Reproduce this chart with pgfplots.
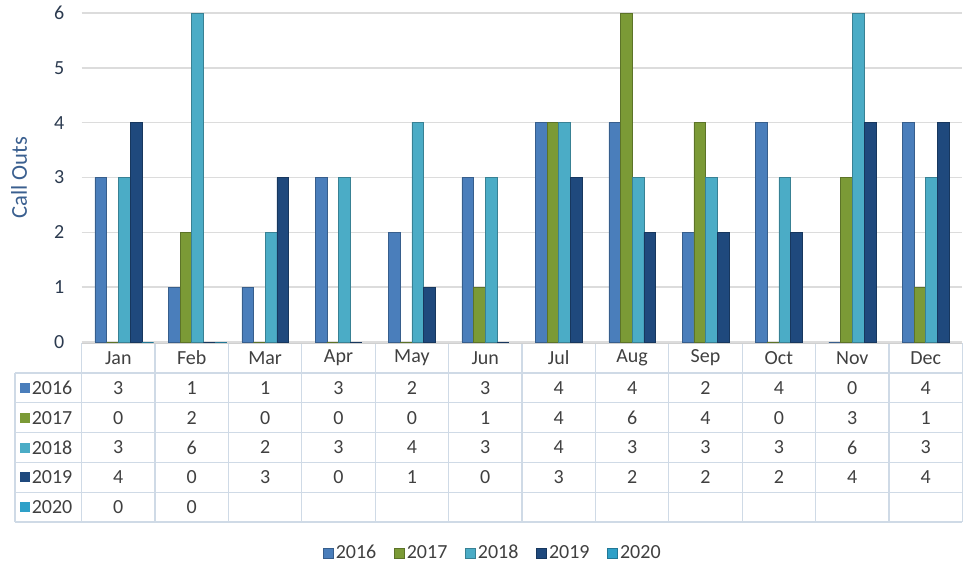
\documentclass[border=0pt]{standalone}
\usepackage{pgfplots}
\pgfplotsset{compat=1.18}
\usepackage{pgfplotstable}
\usepackage{fontspec}
\setmainfont{Carlito}
\definecolor{c16}{HTML}{4A7EBB}
\definecolor{c17}{HTML}{7B9A36}
\definecolor{c18}{HTML}{4BACC6}
\definecolor{c19}{HTML}{1F497D}
\definecolor{c20}{HTML}{2EA0C8}
\definecolor{gridc}{HTML}{DCDCDC}
\definecolor{tabc}{HTML}{CFDAE6}
\definecolor{txt}{HTML}{404040}
\definecolor{ticktxt}{HTML}{2B3A4F}
\definecolor{labtxt}{HTML}{3A5F8F}

\pgfplotstableread{
m name y16 y17 y18 y19
1 Jan 3 0 3 4
2 Feb 1 2 6 0
3 Mar 1 0 2 3
4 Apr 3 0 3 0
5 May 2 0 4 1
6 Jun 3 1 3 0
7 Jul 4 4 4 3
8 Aug 4 6 3 2
9 Sep 2 4 3 2
10 Oct 4 0 3 2
11 Nov 0 3 6 4
12 Dec 4 1 3 4
}\data
\pgfplotstableread{
m y20
1 0
2 0
}\dataB

\newcommand\fs{\fontsize{15}{18}\selectfont}

\begin{document}
\begin{tikzpicture}
\useasboundingbox (0,0) rectangle (723pt,-426.75pt);

% table borders (px coordinates)
\begin{scope}[x=0.75pt,y=-0.75pt]
  \draw[tabc, line width=0.8pt] (81.6,343) -- (962.4,343);
  \foreach \yy in {373,402.8,432.7,462.5,492.3,522}
    \draw[tabc, line width=0.8pt] (15,\yy) -- (962.4,\yy);
  \draw[tabc, line width=0.8pt] (15,373) -- (15,522);
  \foreach \k in {0,...,12}
    \draw[tabc, line width=0.8pt] (81.6+73.4*\k,343) -- (81.6+73.4*\k,522);
  % row labels
  \foreach \yy/\c/\t in {388/c16/2016,417.9/c17/2017,447.6/c18/2018,477.4/c19/2019,507.2/c20/2020}{
    \fill[\c] (20,\yy-5) rectangle (30,\yy+5);
    \node[anchor=west, inner sep=0pt, text=txt, font=\fs] at (31.5,\yy) {\t};
  }
  % y label
  \node[rotate=90, text=labtxt, font=\fontsize{17}{20}\selectfont] at (19,178) {Call Outs};
  % floor
  \fill[gridc!80!black!60] (81.6,340.5) rectangle (962.4,343.5);
\end{scope}

% main chart
\begin{axis}[
  at={(61.2pt,-256.5pt)}, anchor=south west,
  scale only axis, width=660.6pt, height=246.75pt,
  xmin=0.5, xmax=12.5, ymin=0, ymax=6,
  axis line style={draw=none}, major tick length=0pt,
  xtick=\empty, ytick={0,...,6},
  ymajorgrids, grid style={gridc, line width=1.1pt},
  /pgf/number format/assume math mode=true,
  yticklabel style={font=\fs, text=ticktxt, xshift=-9.5pt},
  legend columns=5,
  legend style={at={(0.467,-0.641)}, anchor=center, draw=none, font=\fs, text=txt,
    /tikz/every even column/.append style={column sep=11pt}},
  legend image code/.code={\fill[#1] (0pt,-3.75pt) rectangle (7.5pt,3.75pt);},
  clip=false,
]
\addplot[ybar, bar width=8.8pt, bar shift=-13.1pt, fill=c16, draw=c16!75!black, line width=0.4pt] table[x=m,y=y16]{\data};
\addplot[ybar, bar width=8.8pt, bar shift=-4.35pt, fill=c17, draw=c17!75!black, line width=0.4pt] table[x=m,y=y17]{\data};
\addplot[ybar, bar width=8.8pt, bar shift=4.4pt, fill=c18, draw=c18!75!black, line width=0.4pt] table[x=m,y=y18]{\data};
\addplot[ybar, bar width=8.8pt, bar shift=13.2pt, fill=c19, draw=c19!75!black, line width=0.4pt] table[x=m,y=y19]{\data};
\addplot[ybar, bar width=8.8pt, bar shift=22pt, fill=c20, draw=c20!75!black, line width=0.4pt] table[x=m,y=y20]{\dataB};
\legend{2016,2017,2018,2019,2020}
\end{axis}

% table values
\begin{axis}[
  at={(61.2pt,-391.5pt)}, anchor=south west,
  scale only axis, width=660.6pt, height=134.25pt,
  xmin=0.5, xmax=12.5, ymin=0, ymax=6,
  axis lines=none, xtick=\empty, ytick=\empty,
  nodes near coords align={center},
  every node near coord/.append style={font=\fs, text=txt, inner sep=0pt},
  point meta=explicit symbolic,
  clip=false,
]
\addplot[draw=none, mark=none, nodes near coords] table[x=m, y expr=5.5, meta=name]{\data};
\addplot[draw=none, mark=none, nodes near coords] table[x=m, y expr=4.5, meta=y16]{\data};
\addplot[draw=none, mark=none, nodes near coords] table[x=m, y expr=3.5, meta=y17]{\data};
\addplot[draw=none, mark=none, nodes near coords] table[x=m, y expr=2.5, meta=y18]{\data};
\addplot[draw=none, mark=none, nodes near coords] table[x=m, y expr=1.5, meta=y19]{\data};
\addplot[draw=none, mark=none, nodes near coords] table[x=m, y expr=0.5, meta=y20]{\dataB};
\end{axis}
\end{tikzpicture}
\end{document}
